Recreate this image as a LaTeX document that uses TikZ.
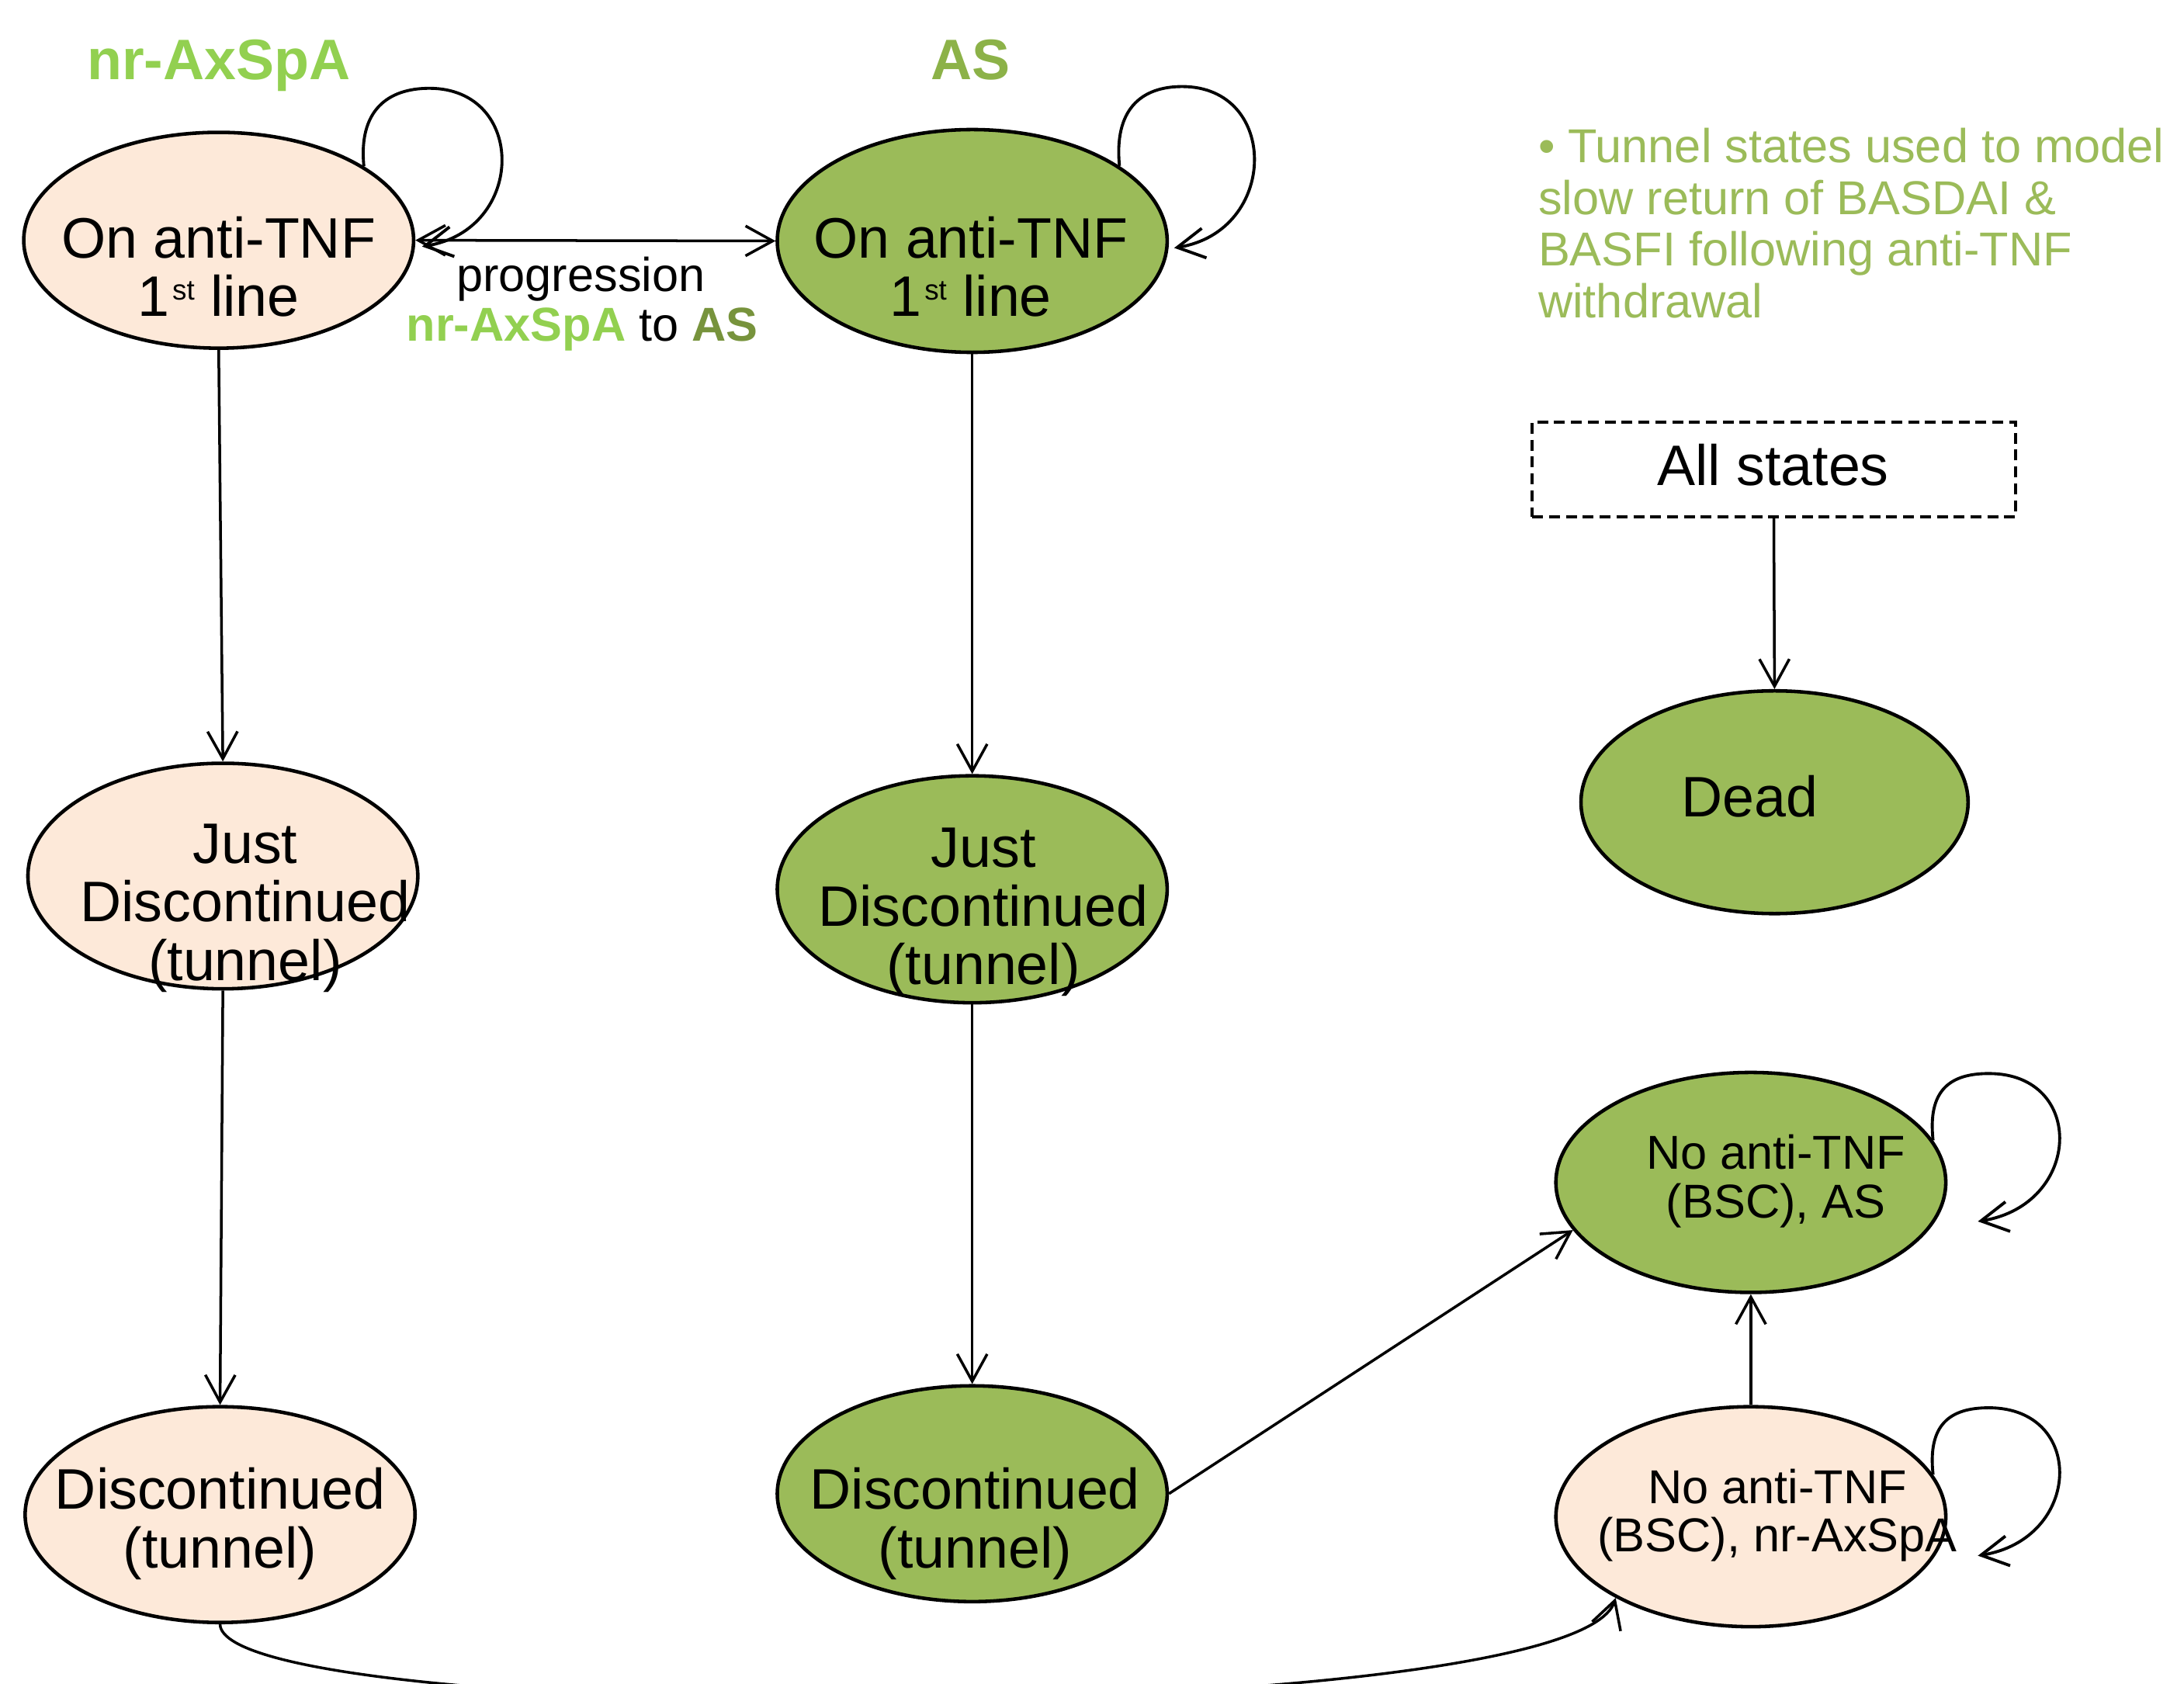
\documentclass[tikz,border=0pt]{standalone}
\usepackage{fontspec}
\setmainfont{Liberation Sans}
\usetikzlibrary{arrows.meta,shapes.geometric}
\definecolor{pinkfill}{HTML}{FDE9D9}
\definecolor{greenfill}{HTML}{9BBB59}
\definecolor{lightgreen}{HTML}{92D050}
\definecolor{darkgreen}{HTML}{77933C}
\definecolor{headgreen}{RGB}{140,178,72}
\definecolor{notegreen}{HTML}{9BBB59}
\newcommand{\myst}{\kern1pt\raisebox{6pt}{\fontsize{10.5}{10.5}\selectfont st}}
\begin{document}
\begin{tikzpicture}[x=0.018cm,y=-0.018cm,
  state/.style={ellipse, draw=black, line width=1.3pt, minimum width=5.04cm, inner sep=0pt},
  pinkstate/.style={state, fill=pinkfill},
  greenstate/.style={state, fill=greenfill},
  biglbl/.style={align=center, inner sep=0pt, font=\fontsize{21}{21.5}\selectfont},
  bigline/.style={anchor=base, inner sep=0pt, font=\fontsize{21}{21.5}\selectfont},
  smalllbl/.style={align=center, inner sep=0pt, font=\fontsize{17.5}{17.9}\selectfont},
  notelbl/.style={anchor=base west, inner sep=0pt, text=notegreen, font=\fontsize{17.5}{18.9}\selectfont},
  headlbl/.style={anchor=base, inner sep=0pt, font=\fontsize{21}{24}\selectfont\bfseries},
  arr/.style={line width=1pt, -{Straight Barb[length=10pt,width=11pt]}},
  arrtwo/.style={line width=1pt, {Straight Barb[length=10pt,width=11pt]}-{Straight Barb[length=10pt,width=11pt]}},
  selfloop/.style={line width=1.1pt, -{Straight Barb[length=10pt,width=11pt]}},
]
\useasboundingbox (0,0) rectangle (1568,1209);
\clip (0,0) rectangle (1568,1209);

% headers
\node[headlbl, text=lightgreen] (hnr) at (157,57) {nr-AxSpA};
\node[headlbl, text=headgreen] (has) at (697,57) {AS};

% states
\node[pinkstate, minimum height=2.79cm] (n1) at (157,172.5) {};
\node[greenstate, minimum height=2.88cm] (a1) at (698,173) {};
\node[pinkstate, minimum height=2.916cm] (n2) at (160,629) {};
\node[greenstate, minimum height=2.934cm] (a2) at (698,638.5) {};
\node[pinkstate, minimum height=2.79cm] (n3) at (158,1087.5) {};
\node[greenstate, minimum height=2.79cm] (a3) at (698,1072.5) {};
\node[greenstate, minimum width=5.004cm, minimum height=2.88cm] (dead) at (1274,576) {};
\node[greenstate, minimum height=2.844cm] (noas) at (1257,849) {};
\node[pinkstate, minimum height=2.844cm] (nonr) at (1257,1089) {};
\node[draw, line width=1.2pt, dash pattern=on 4pt off 2.2pt, minimum width=6.246cm, minimum height=1.224cm, inner sep=0pt] (all) at (1273.5,337) {};

% state texts
\node[bigline] (tn1a) at (157,185) {On anti-TNF};
\node[bigline] (tn1b) at (157,227) {1\myst\ line};
\node[bigline] (ta1a) at (697,185) {On anti-TNF};
\node[bigline] (ta1b) at (697,227) {1\myst\ line};
\node[biglbl] (tn2) at (176,652) {Just\\Discontinued\\(tunnel)};
\node[biglbl] (ta2) at (706,655) {Just\\Discontinued\\(tunnel)};
\node[biglbl] (tn3) at (158,1094) {Discontinued\\(tunnel)};
\node[biglbl] (ta3) at (700,1094) {Discontinued\\(tunnel)};
\node[biglbl] (tdead) at (1256,572) {Dead};
\node[biglbl] (tall) at (1273,334) {All states};
\node[smalllbl] (tnoas) at (1275,848) {No anti-TNF\\(BSC), AS};
\node[smalllbl] (tnonr) at (1276,1088) {No anti-TNF\\(BSC), nr-AxSpA};

% progression label
\node[anchor=base, inner sep=0pt, font=\fontsize{17.5}{18}\selectfont] (prog1) at (417,209) {progression};
\node[anchor=base, inner sep=0pt, font=\fontsize{17.5}{18}\selectfont] (prog2) at (418,245) {{\color{lightgreen}\bfseries nr-AxSpA} to {\color{darkgreen}\bfseries AS}};

% note
\node[notelbl] (note1) at (1104,117) {• Tunnel states used to model};
\node[notelbl] (note2) at (1104,154) {slow return of BASDAI \&};
\node[notelbl] (note3) at (1104,191) {BASFI following anti-TNF};
\node[notelbl] (note4) at (1104,228) {withdrawal};

% connectors
\draw[arrtwo] (n1.east) -- (a1.west);
\draw[arr] (n1.south) -- (n2.north);
\draw[arr] (n2.south) -- (n3.north);
\draw[arr] (a1.south) -- (a2.north);
\draw[arr] (a2.south) -- (a3.north);
\draw[arr] (a3.east) -- (noas.195);
\draw[arr] (nonr.north) -- (noas.south);
\draw[arr] (all.south) -- (dead.north);
\draw[arr] (n3.south) .. controls +(2,75) and +(-31,95) .. (nonr.211);

% self loops
\coordinate (l1e) at (303,177);
\coordinate (l2e) at (843,178);
\coordinate (l3e) at (1420,877);
\coordinate (l4e) at (1420,1117);
\draw[selfloop] (n1.27) .. controls +(-4,-40) and +(-30,0) .. ++(47,-56) .. controls +(70,0) and +(75,-12) .. (l1e);
\draw[selfloop] (a1.27) .. controls +(-4,-40) and +(-30,0) .. ++(45,-57) .. controls +(70,0) and +(75,-12) .. (l2e);
\draw[selfloop] (noas.13) .. controls +(-4,-36) and +(-28,0) .. ++(40,-48) .. controls +(70,0) and +(75,-12) .. (l3e);
\draw[selfloop] (nonr.13) .. controls +(-4,-36) and +(-28,0) .. ++(40,-48) .. controls +(70,0) and +(75,-12) .. (l4e);
\end{tikzpicture}
\end{document}
